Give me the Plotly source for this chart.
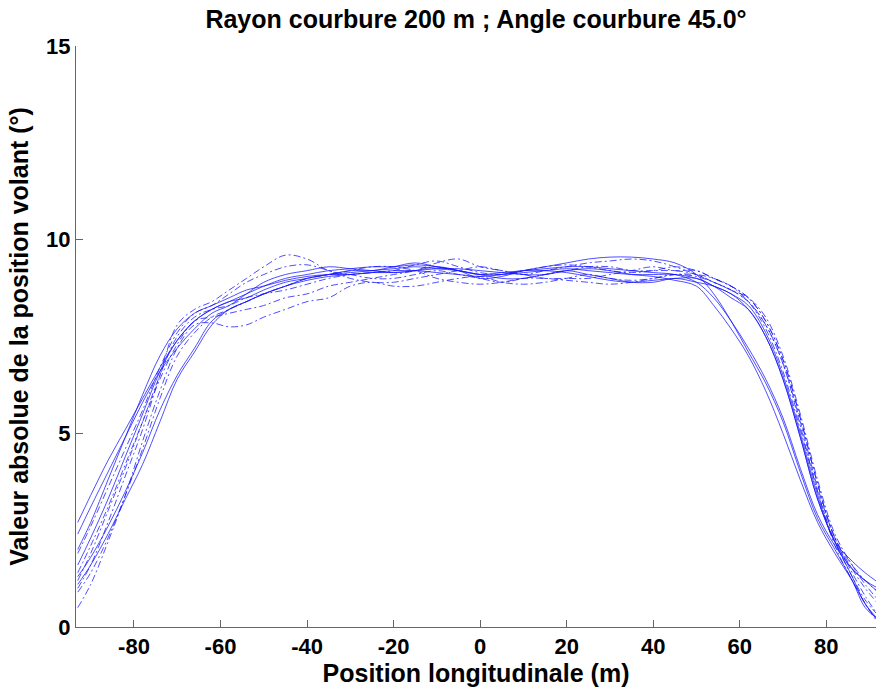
import plotly.graph_objects as go

x_pos = [-93, -90, -86, -82, -78, -74, -70, -66, -62, -58, -54, -50, -45, -40, -35, -30, -25, -20,
         -15, -10, -5, 0, 5, 10, 15, 20, 25, 30, 35, 40, 45, 50, 54, 58, 62, 66, 70, 74, 78, 82,
         86, 89, 92]

run_s1 = [2.7, 3.4, 4.3, 5.1, 5.9, 6.7, 7.4, 7.9, 8.2, 8.4, 8.5, 8.7, 8.9, 9.0, 9.1, 9.15, 9.2, 9.25,
          9.3, 9.25, 9.2, 9.1, 9.1, 9.15, 9.2, 9.25, 9.2, 9.15, 9.1, 9.1, 9.1, 9.0, 8.8, 8.6, 8.2, 7.5,
          6.4, 4.9, 3.3, 2.2, 1.5, 1.2, 1.0]
run_s2 = [2.4, 3.1, 4.0, 4.9, 5.8, 6.6, 7.2, 7.7, 8.1, 8.3, 8.6, 8.9, 9.1, 9.2, 9.3, 9.25, 9.2, 9.15,
          9.2, 9.3, 9.2, 9.0, 9.05, 9.2, 9.3, 9.4, 9.5, 9.55, 9.55, 9.5, 9.4, 9.1, 8.6, 7.9, 7.1, 6.3,
          5.3, 4.0, 2.8, 2.0, 1.2, 0.5, 0.2]
run_s3 = [1.3, 1.8, 2.6, 3.5, 4.5, 5.6, 6.5, 7.2, 7.9, 8.2, 8.4, 8.6, 8.8, 9.0, 9.1, 9.2, 9.2, 9.3,
          9.4, 9.3, 9.2, 9.1, 9.0, 9.0, 9.1, 9.2, 9.1, 9.0, 8.9, 8.9, 9.0, 8.9, 8.8, 8.6, 8.3, 7.6,
          6.5, 5.0, 3.4, 2.2, 1.7, 1.4, 1.15]
run_s4 = [1.6, 2.3, 3.3, 4.4, 5.5, 6.6, 7.4, 7.9, 8.2, 8.4, 8.6, 8.8, 9.0, 9.1, 9.2, 9.25, 9.3, 9.3,
          9.35, 9.3, 9.2, 9.1, 9.15, 9.2, 9.25, 9.3, 9.3, 9.25, 9.2, 9.15, 9.1, 8.9, 8.5, 7.9, 7.2, 6.4,
          5.4, 4.1, 2.9, 2.1, 1.5, 1.2, 0.9]
run_s5 = [2.0, 2.7, 3.8, 4.9, 6.0, 7.0, 7.7, 8.1, 8.3, 8.5, 8.7, 8.8, 8.95, 9.05, 9.1, 9.1, 9.15, 9.2,
          9.2, 9.15, 9.1, 9.05, 9.1, 9.2, 9.2, 9.15, 9.05, 8.95, 8.9, 8.95, 9.0, 9.0, 8.8, 8.5, 8.2, 7.5,
          6.4, 4.9, 3.3, 2.2, 1.3, 0.6, 0.2]
run_s6 = [1.1, 1.6, 2.4, 3.3, 4.2, 5.3, 6.4, 7.1, 7.8, 8.2, 8.4, 8.6, 8.8, 8.95, 9.05, 9.1, 9.15, 9.15,
          9.2, 9.25, 9.25, 9.2, 9.15, 9.1, 9.1, 9.2, 9.25, 9.2, 9.1, 9.05, 8.95, 8.8, 8.3, 7.7, 7.0, 6.1,
          5.0, 3.8, 2.7, 1.9, 1.2, 0.6, 0.15]

run_d1 = [1.0, 1.6, 2.7, 3.9, 5.1, 6.5, 7.8, 8.2, 8.4, 8.7, 9.0, 9.3, 9.6, 9.5, 9.2, 9.1, 9.0, 9.0,
          9.1, 9.2, 9.1, 9.0, 8.9, 9.0, 9.1, 9.2, 9.3, 9.3, 9.2, 9.2, 9.2, 9.1, 8.9, 8.7, 8.4, 7.8,
          6.8, 5.3, 3.6, 2.3, 1.4, 0.8, 0.3]
run_d2 = [1.9, 2.6, 3.6, 4.6, 5.6, 6.7, 7.6, 8.1, 8.3, 8.6, 8.9, 9.1, 9.3, 9.35, 9.2, 9.0, 8.9, 8.9,
          9.0, 9.1, 9.2, 9.3, 9.2, 9.1, 9.0, 9.0, 9.0, 9.1, 9.2, 9.3, 9.2, 9.2, 9.0, 8.8, 8.5, 7.9,
          6.9, 5.4, 3.7, 2.3, 1.6, 1.2, 0.9]
run_d3 = [0.5, 1.1, 2.2, 3.4, 4.8, 6.1, 7.2, 7.8, 7.85, 7.75, 7.8, 8.0, 8.2, 8.4, 8.5, 8.8, 8.9, 8.8,
          8.8, 8.9, 9.0, 9.05, 8.9, 8.85, 8.9, 9.0, 9.1, 9.0, 8.95, 9.0, 9.1, 9.1, 9.0, 8.8, 8.4, 7.7,
          6.6, 5.1, 3.5, 2.1, 1.2, 0.6, 0.1]
run_d4 = [1.4, 2.1, 3.1, 4.2, 5.3, 6.4, 7.3, 7.9, 8.0, 8.1, 8.2, 8.3, 8.5, 8.6, 8.8, 8.9, 9.0, 9.1,
          9.2, 9.4, 9.5, 9.3, 9.2, 9.1, 9.2, 9.3, 9.4, 9.45, 9.5, 9.45, 9.3, 9.1, 8.9, 8.7, 8.5, 8.0,
          7.0, 5.5, 3.8, 2.4, 1.6, 1.1, 0.7]
run_d5 = [0.9, 1.4, 2.3, 3.4, 4.6, 5.9, 7.0, 7.6, 8.0, 8.2, 8.4, 8.6, 8.8, 9.0, 9.1, 9.2, 9.3, 9.3,
          9.2, 9.0, 8.9, 8.85, 8.9, 9.0, 9.0, 8.95, 8.9, 8.85, 8.9, 9.0, 9.1, 9.05, 8.9, 8.7, 8.4, 7.8,
          6.8, 5.2, 3.5, 2.2, 1.3, 0.7, 0.3]
run_d6 = [1.2, 1.9, 3.0, 4.1, 5.3, 6.5, 7.5, 8.0, 8.2, 8.3, 8.5, 8.6, 8.7, 8.85, 9.0, 9.1, 9.15, 9.2,
          9.35, 9.45, 9.3, 9.15, 9.1, 9.2, 9.3, 9.35, 9.3, 9.2, 9.15, 9.2, 9.3, 9.2, 9.0, 8.8, 8.5, 7.9,
          6.9, 5.4, 3.7, 2.3, 1.5, 1.0, 0.6]

solid_runs = [run_s1, run_s2, run_s3, run_s4, run_s5, run_s6]
dashdot_runs = [run_d1, run_d2, run_d3, run_d4, run_d5, run_d6]

x_ticks = [-80, -60, -40, -20, 0, 20, 40, 60, 80]
x_tick_text = ["-80", "-60", "-40", "-20", "0", "20", "40", "60", "80"]
y_ticks = [0, 5, 10, 15]
y_tick_text = ["0", "5", "10", "15"]

title_text = "Rayon courbure 200 m ; Angle courbure 45.0°"
x_title = "Position longitudinale (m)"
y_title = "Valeur absolue de la position volant (°)"

LINE_COLOR = "rgba(20,20,255,0.75)"
FONT = "Liberation Sans, Arial, sans-serif"

fig = go.Figure()
for ys in solid_runs:
    fig.add_trace(go.Scatter(x=x_pos, y=ys, mode="lines", line_shape="spline",
                             line=dict(color=LINE_COLOR, width=1), showlegend=False))
for ys in dashdot_runs:
    fig.add_trace(go.Scatter(x=x_pos, y=ys, mode="lines", line_shape="spline",
                             line=dict(color=LINE_COLOR, width=1, dash="7px,3px,2px,3px"),
                             showlegend=False))

W, H = 876, 689
fig.update_layout(
    width=W, height=H,
    margin=dict(l=76, r=0, t=46, b=62),
    paper_bgcolor="white", plot_bgcolor="white",
    font=dict(family=FONT, color="black", size=22, weight="bold"),
    title=dict(text=title_text, x=(76 + 876) / 2 / W, xanchor="center", y=1 - 19 / H,
               yanchor="middle", yref="container",
               font=dict(size=25, family=FONT, weight="bold")),
    xaxis=dict(range=[-93.4, 91.5], tickvals=x_ticks, ticktext=x_tick_text,
               ticks="inside", ticklen=7, tickcolor="#666", showline=True, linecolor="#666",
               linewidth=1, showgrid=False, zeroline=False, mirror=False,
               tickfont=dict(size=22, family=FONT, weight="bold"),
               title=dict(text=x_title, standoff=3, font=dict(size=25, family=FONT, weight="bold"))),
    yaxis=dict(range=[0, 15], tickvals=y_ticks, ticktext=y_tick_text,
               ticks="inside", ticklen=7, tickcolor="#666", showline=True, linecolor="#666",
               linewidth=1, showgrid=False, zeroline=False, mirror=False,
               tickfont=dict(size=22, family=FONT, weight="bold"),
               title=dict(text=y_title, standoff=10, font=dict(size=25, family=FONT, weight="bold"))),
)

fig.write_html("out.html", config={"displayModeBar": False},
               post_script="document.body.style.margin='0';document.body.style.overflow='hidden';")
